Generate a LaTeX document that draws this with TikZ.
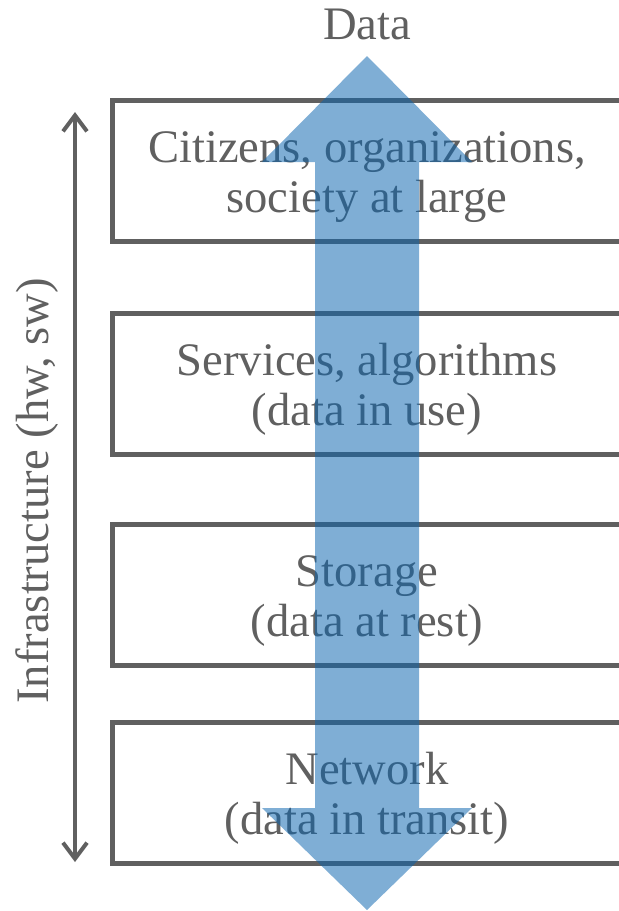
\documentclass[tikz,border=0pt]{standalone}
\usepackage{fontspec}
\setmainfont{Liberation Serif}
\usetikzlibrary{arrows.meta}
\definecolor{layergray}{RGB}{96,96,96}
\definecolor{datablue}{RGB}{10,100,175}
\newcommand{\toplift}{\rule{0pt}{21.5pt}}

\begin{document}
\begin{tikzpicture}[x=0.5pt,y=-0.5pt,
  every node/.style={text=layergray,font=\fontsize{23.3}{25}\selectfont},
  layer/.style={draw=layergray,line width=2.5pt,minimum width=255pt,minimum height=70.5pt,inner sep=0pt,align=center}]
\tikzstyle{infraarrow}=[draw=layergray,line width=2pt,{Straight Barb[length=8pt,width=12pt]}-{Straight Barb[length=8pt,width=12pt]}]
\tikzstyle{dataarrow}=[fill=datablue,opacity=0.52]
\useasboundingbox (0,0) rectangle (618,911);
\node[layer] (citizens) at (367,171) {\toplift Citizens, organizations,\\society at large};
\node[layer] (services) at (367,383.5) {\toplift Services, algorithms\\(data in use)};
\node[layer] (storage) at (367,594.5) {\toplift Storage\\(data at rest)};
\node[layer] (network) at (367,792.5) {\toplift Network\\(data in transit)};
\coordinate (infratop) at (75,112);
\coordinate (infrabot) at (75,862);
\draw[infraarrow] (infratop) -- (infrabot);
\node[rotate=90] (infra) at (37,491) {Infrastructure (hw, sw)};
\path[dataarrow] (367,56) -- (472,162) -- (419,162) -- (419,808) -- (472,808)
  -- (367,910) -- (262,808) -- (315,808) -- (315,162) -- (262,162) -- cycle;
\node (data) at (367,24) {Data};
\end{tikzpicture}
\end{document}
